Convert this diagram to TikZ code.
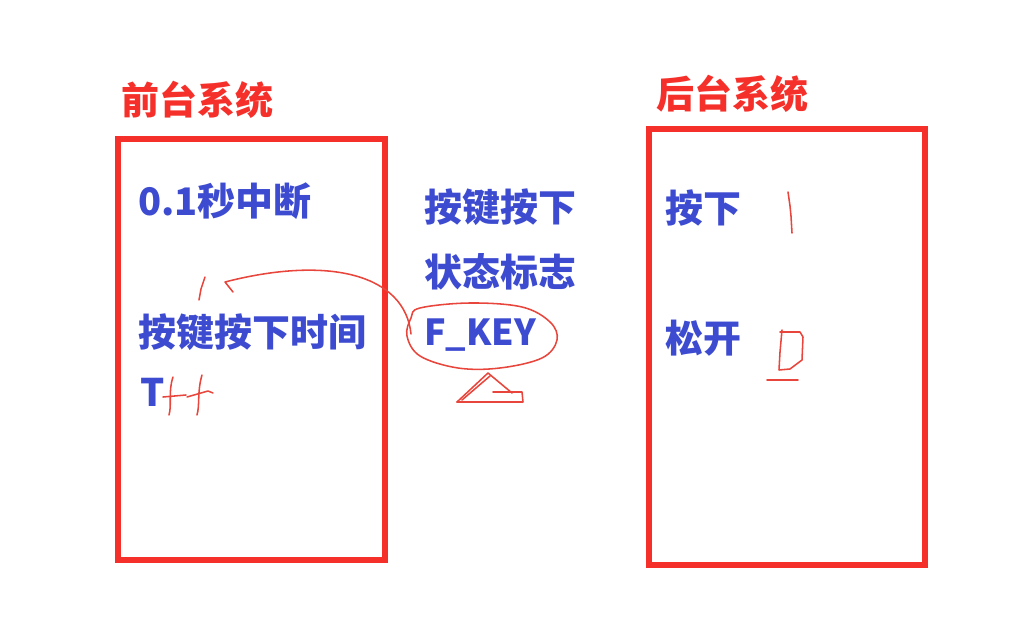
\documentclass[tikz,border=0pt]{standalone}
\usepackage{fontspec}
\setmainfont{Noto Sans CJK SC}
\usepackage{xcolor}
\usepackage{tikz}
\usetikzlibrary{positioning, calc}

\tikzset{
  titulo/.style={text=vermelho, font=\bfseries\fontsize{27}{32}\selectfont, anchor=west, inner sep=0pt},
  texto/.style={text=azul, font=\bfseries\fontsize{27}{32}\selectfont, anchor=west, inner sep=0pt},
  caixa/.style={draw=vermelho, line width=4.5pt},
  mao/.style={draw=tinta, line width=1.1pt, line cap=round, line join=round}
}

\begin{document}
\begin{tikzpicture}[x=0.025cm, y=-0.025cm]
% --- QUADROS, TEXTOS E TRACOS A MAO ---
\definecolor{vermelho}{HTML}{F5302A}
\definecolor{azul}{HTML}{3C4BD0}
\definecolor{tinta}{HTML}{E8463C}
\useasboundingbox (0,0) rectangle (1034,636);

% LAYER 1: Quadros
\draw[caixa] (118,139) rectangle (385,560);
\draw[caixa] (649,129) rectangle (925,565);

% LAYER 2: Titulos
\node[titulo] (frente) at (121,100) {前台系统};
\node[titulo] (fundo) at (656,94) {后台系统};

% LAYER 3: Sistema de frente
\node[texto] (interrupcao) at (138,201) {0.1秒中断};
\node[texto] (tempo) at (138,332) {按键按下时间};
\node[texto] (contador) at (140,392) {T};

% LAYER 4: Sinalizador
\node[texto] (estado1) at (424,207) {按键按下};
\node[texto] (estado2) at (424,272) {状态标志};
\node[texto, font=\bfseries\fontsize{25.5}{30}\selectfont] (flag) at (424,335) {F\_KEY};

% LAYER 5: Sistema de fundo
\node[texto] (pressionado) at (665,208) {按下};
\node[texto] (solto) at (665,338) {松开};

% LAYER 6: Tracos a mao
\coordinate (saida) at (411,334);
\coordinate (ponta) at (225,282);
\draw[mao] plot[smooth cycle, tension=0.6] coordinates {(420,308) (470,303) (522,307) (550,322) (557,340) (542,358) (500,368) (458,368) (420,356) (407,336) (411,318)};
\draw[mao] (saida) .. controls (405,275) and (330,255) .. (ponta) -- ++(8,10);
\draw[mao] (205,277) -- (201,289) -- (199,300);
\draw[mao] (173,377) .. controls (168,392) and (172,405) .. (169,415);
\draw[mao] (163,397) -- (186,395);
\draw[mao] (202,375) .. controls (197,392) and (200,405) .. (197,415);
\draw[mao] (187,397) -- (208,391) -- (213,393);
\draw[mao] (457,402) -- (488,373) -- (512,393);
\draw[mao] (462,400) -- (490,376);
\draw[mao] (493,392) -- (522,392) -- (523,402) -- (457,402);
\draw[mao] (788,192) -- (790,206) -- (791,216) -- (792,233);
\draw[mao] (782,330) -- (780,352) -- (779,370) -- (790,369) -- (802,360) -- (803,337) -- (800,332) -- (780,332);
\draw[mao] (767,380) -- (798,380);
\end{tikzpicture}
\end{document}
